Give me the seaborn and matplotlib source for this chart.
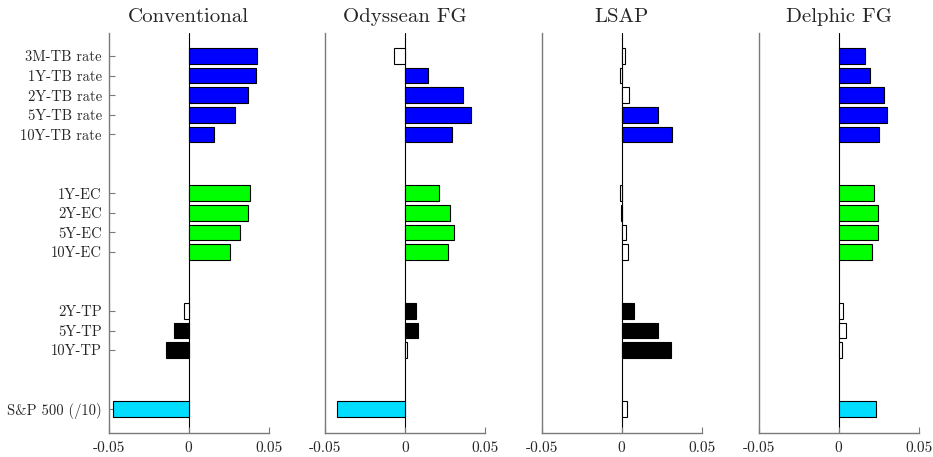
import matplotlib
matplotlib.use("Agg")
import matplotlib.pyplot as plt
import seaborn as sns
import pandas as pd

sns.set_style("white")
plt.rcParams["font.family"] = ["cmr10", "DejaVu Serif"]
plt.rcParams["axes.unicode_minus"] = False

labels = ["3M-TB rate", "1Y-TB rate", "2Y-TB rate", "5Y-TB rate", "10Y-TB rate",
          "1Y-EC", "2Y-EC", "5Y-EC", "10Y-EC",
          "2Y-TP", "5Y-TP", "10Y-TP", "S&P 500 (/10)"]
groups = ["TB"] * 5 + ["EC"] * 4 + ["TP"] * 3 + ["SP"]
slots = [0, 1, 2, 3, 4, 7, 8, 9, 10, 13, 14, 15, 18]
group_colors = {"TB": "#0000FF", "EC": "#00FF00", "TP": "#000000", "SP": "#00DDFF"}

titles = ["Conventional", "Odyssean FG", "LSAP", "Delphic FG"]

conventional = [0.0425, 0.0421, 0.0373, 0.0289, 0.0160,
                0.0381, 0.0373, 0.0321, 0.0256,
                -0.0028, -0.0092, -0.0142, -0.0471]
odyssean = [-0.0073, 0.0144, 0.0360, 0.0410, 0.0294,
            0.0213, 0.0279, 0.0306, 0.0269,
            0.0069, 0.0077, 0.0012, -0.0427]
lsap = [0.0023, -0.0010, 0.0048, 0.0224, 0.0317,
        -0.0008, -0.0004, 0.0027, 0.0041,
        0.0077, 0.0228, 0.0307, 0.0031]
delphic = [0.0165, 0.0194, 0.0283, 0.0300, 0.0252,
           0.0219, 0.0244, 0.0244, 0.0206,
           0.0025, 0.0046, 0.0019, 0.0231]

sig_conventional = [1, 1, 1, 1, 1, 1, 1, 1, 1, 0, 1, 1, 1]
sig_odyssean = [0, 1, 1, 1, 1, 1, 1, 1, 1, 1, 1, 0, 1]
sig_lsap = [0, 0, 0, 1, 1, 0, 0, 0, 0, 1, 1, 1, 0]
sig_delphic = [1, 1, 1, 1, 1, 1, 1, 1, 1, 0, 0, 0, 1]

series = [conventional, odyssean, lsap, delphic]
sigs = [sig_conventional, sig_odyssean, sig_lsap, sig_delphic]

fig = plt.figure(figsize=(9.33, 4.57), dpi=100)
lefts = [0.1165, 0.3487, 0.5806, 0.8132]
width = 0.1715
bottom = 0.0532
height = 0.8746
spine_col = "#7a7a7a"

for i, (title, vals, sig) in enumerate(zip(titles, series, sigs)):
    ax = fig.add_axes([lefts[i], bottom, width, height])
    df = pd.DataFrame({"value": vals, "slot": slots})
    sns.barplot(data=df, x="value", y="slot", orient="h", native_scale=True,
                color="white", edgecolor="black", linewidth=0.8, width=0.8,
                errorbar=None, ax=ax)
    facecols = [group_colors[g] if s else "white" for g, s in zip(groups, sig)]
    for patch, fc in zip(ax.patches, facecols):
        patch.set_facecolor(fc)
    ax.axvline(0, color="black", lw=0.8, zorder=0.5)
    ax.set_xlim(-0.05, 0.05)
    ax.set_ylim(19.21, -1.17)
    ax.set_xticks([-0.05, 0, 0.05])
    ax.set_xticklabels(["-0.05", "0", "0.05"], fontsize=11)
    ax.set_xlabel("")
    ax.set_ylabel("")
    for s in ["top", "right"]:
        ax.spines[s].set_visible(False)
    for s in ["left", "bottom"]:
        ax.spines[s].set_color(spine_col)
        ax.spines[s].set_linewidth(1.0)
    ax.tick_params(axis="x", direction="in", length=4, color=spine_col, pad=6, bottom=True)
    if i == 0:
        ax.set_yticks(slots)
        ax.set_yticklabels(labels, fontsize=10.5)
        ax.tick_params(axis="y", direction="in", length=4, color=spine_col, pad=5, left=True)
    else:
        ax.set_yticks([])
    ax.set_title(title, fontsize=15, pad=8)

fig.savefig("out.png", dpi=100)
